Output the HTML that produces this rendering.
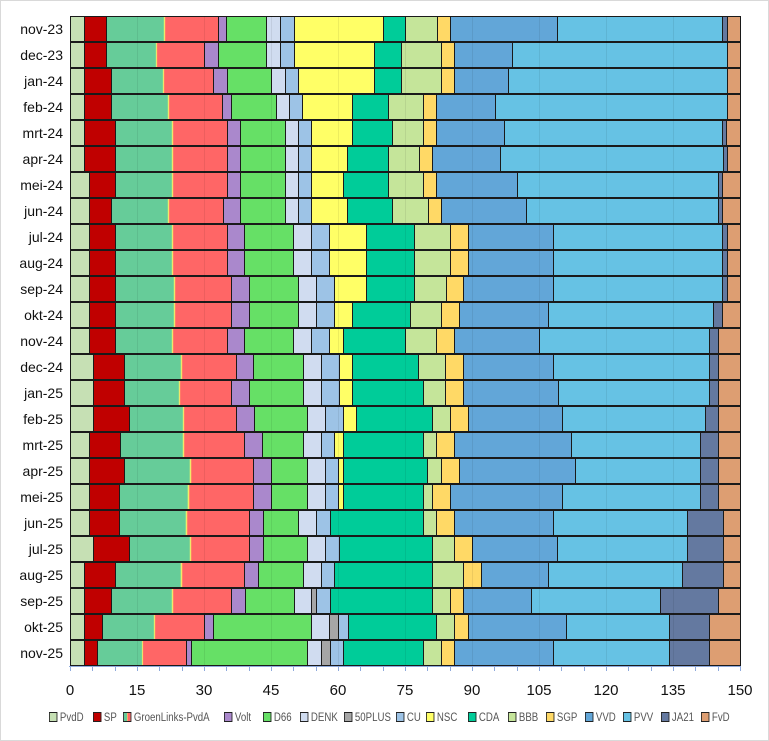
<!DOCTYPE html>
<html><head><meta charset="utf-8"><style>
body{margin:0;background:#fff;}
#c{position:relative;width:767px;height:739px;border:1px solid #d9d9d9;background:#fff;overflow:hidden;font-family:"Liberation Sans",sans-serif;}
.rl{position:absolute;left:0;width:62px;text-align:right;font-size:14px;color:#111;line-height:26px;}
.seg{position:absolute;box-sizing:border-box;border:1px solid #1a1a1a;height:26px;}
.tl{position:absolute;top:681px;width:40px;margin-left:-20px;text-align:center;font-size:15px;color:#111;}
.lg{position:absolute;top:711px;font-size:11.5px;color:#555;white-space:nowrap;transform:scaleX(0.84);transform-origin:0 50%;}
.lg i{display:inline-block;width:8px;height:8px;border:1px solid #222;margin-right:3px;vertical-align:-1px;}
.gl{position:absolute;top:15px;height:650px;width:1px;background:rgba(0,0,0,0.07);}
</style></head><body><div id="c">
<div class="rl" style="top:15px">nov-23</div>
<div class="rl" style="top:41px">dec-23</div>
<div class="rl" style="top:67px">jan-24</div>
<div class="rl" style="top:93px">feb-24</div>
<div class="rl" style="top:119px">mrt-24</div>
<div class="rl" style="top:145px">apr-24</div>
<div class="rl" style="top:171px">mei-24</div>
<div class="rl" style="top:197px">jun-24</div>
<div class="rl" style="top:223px">jul-24</div>
<div class="rl" style="top:249px">aug-24</div>
<div class="rl" style="top:275px">sep-24</div>
<div class="rl" style="top:301px">okt-24</div>
<div class="rl" style="top:327px">nov-24</div>
<div class="rl" style="top:353px">dec-24</div>
<div class="rl" style="top:379px">jan-25</div>
<div class="rl" style="top:405px">feb-25</div>
<div class="rl" style="top:431px">mrt-25</div>
<div class="rl" style="top:457px">apr-25</div>
<div class="rl" style="top:483px">mei-25</div>
<div class="rl" style="top:509px">jun-25</div>
<div class="rl" style="top:535px">jul-25</div>
<div class="rl" style="top:561px">aug-25</div>
<div class="rl" style="top:587px">sep-25</div>
<div class="rl" style="top:613px">okt-25</div>
<div class="rl" style="top:639px">nov-25</div>
<div id="bars"></div>
<div style="position:absolute;left:68px;top:665px;width:672px;height:1px;background:#8faadc"></div>
<div id="ticks"></div>
<div class="tl" style="left:69px">0</div>
<div class="tl" style="left:136px">15</div>
<div class="tl" style="left:203px">30</div>
<div class="tl" style="left:270px">45</div>
<div class="tl" style="left:337px">60</div>
<div class="tl" style="left:404px">75</div>
<div class="tl" style="left:471px">90</div>
<div class="tl" style="left:538px">105</div>
<div class="tl" style="left:605px">120</div>
<div class="tl" style="left:672px">135</div>
<div class="tl" style="left:739px">150</div>
<div class="lg" style="left:48px"><i style="background:#c6e0b4"></i>PvdD</div>
<div class="lg" style="left:92px"><i style="background:#c00000"></i>SP</div>
<div class="lg" style="left:122px"><i style="background:linear-gradient(90deg,#66cc99 45%,#ffff66 50%,#ff6666 55%)"></i>GroenLinks-PvdA</div>
<div class="lg" style="left:223px"><i style="background:#aa88cc"></i>Volt</div>
<div class="lg" style="left:262px"><i style="background:#66e066"></i>D66</div>
<div class="lg" style="left:299px"><i style="background:#d0dcf0"></i>DENK</div>
<div class="lg" style="left:343px"><i style="background:#a6a6a6"></i>50PLUS</div>
<div class="lg" style="left:395px"><i style="background:#9dc3e6"></i>CU</div>
<div class="lg" style="left:425px"><i style="background:#ffff66"></i>NSC</div>
<div class="lg" style="left:467px"><i style="background:#00cc99"></i>CDA</div>
<div class="lg" style="left:507px"><i style="background:#c5e59a"></i>BBB</div>
<div class="lg" style="left:545px"><i style="background:#ffd966"></i>SGP</div>
<div class="lg" style="left:584px"><i style="background:#62a6d8"></i>VVD</div>
<div class="lg" style="left:622px"><i style="background:#66c2e4"></i>PVV</div>
<div class="lg" style="left:660px"><i style="background:#6479a0"></i>JA21</div>
<div class="lg" style="left:700px"><i style="background:#dd9e72"></i>FvD</div>
</div>
<script>
var C=["#c6e0b4","#c00000","GL","GL","#aa88cc","#66e066","#d0dcf0","#a6a6a6","#9dc3e6","#ffff66","#00cc99","#c5e59a","#ffd966","#62a6d8","#66c2e4","#6479a0","#dd9e72"];
var R=[
[83,105,163,217,225,265,279,279,293,382,404,436,449,556,721,726,739],
[83,105,155,203,217,265,279,279,293,373,400,440,453,511,726,726,739],
[83,110,162,212,226,270,284,284,297,373,400,440,453,507,726,726,739],
[83,110,167,221,230,275,288,288,301,351,387,422,435,494,726,726,739],
[83,114,171,226,239,284,297,297,310,351,391,422,435,503,721,725,739],
[83,114,171,226,239,284,297,297,310,346,387,418,431,499,722,726,739],
[88,114,171,226,239,284,297,297,310,342,387,422,435,516,717,721,739],
[88,110,167,222,239,284,297,297,310,346,391,427,440,525,717,721,739],
[88,114,171,226,243,292,310,310,328,365,413,449,467,552,721,726,739],
[88,114,171,226,243,292,310,310,328,365,413,449,467,552,721,726,739],
[88,114,173,230,248,297,315,315,333,365,413,445,462,552,721,726,739],
[88,114,173,230,248,297,315,315,333,351,409,440,458,547,712,721,739],
[88,114,171,226,243,292,310,310,328,342,404,435,453,538,708,717,739],
[92,123,180,235,252,302,320,320,338,351,417,444,462,552,708,717,739],
[92,123,178,230,248,302,320,320,338,351,422,444,462,557,708,717,739],
[92,128,182,235,253,306,324,324,342,355,431,449,467,561,704,717,739],
[88,119,182,243,261,302,320,320,333,342,422,435,453,570,699,717,739],
[88,123,189,252,270,306,324,324,337,342,426,440,458,574,699,717,739],
[88,118,187,252,270,306,324,324,337,342,422,431,449,561,699,717,739],
[88,118,185,248,262,297,315,315,329,329,422,435,453,552,686,722,739],
[92,128,189,248,262,306,324,324,338,338,431,453,471,556,686,722,739],
[83,114,180,243,257,302,320,320,333,333,431,462,480,547,681,722,739],
[83,110,171,230,244,293,310,315,329,329,431,449,462,530,659,717,739],
[83,101,153,203,212,310,328,337,347,347,435,453,467,565,668,708,739],
[83,96,141,185,190,306,320,329,342,342,422,440,453,552,668,708,739]];
var h="";
for(var i=0;i<R.length;i++){var r=R[i],t=15+i*26,p=69;
for(var j=0;j<17;j++){var e=r[j];
if(j==2){var e2=r[3],w=e2-p,f=(e-p)/w*100;
h+='<div class="seg" style="left:'+p+'px;top:'+t+'px;width:'+(w+1)+'px;background:linear-gradient(90deg,#66cc99 '+(f-1)+'%,#ffff66 '+f+'%,#ff6666 '+(f+1)+'%)"></div>';p=e2;j=3;continue;}
if(e>p){h+='<div class="seg" style="left:'+p+'px;top:'+t+'px;width:'+(e-p+1)+'px;background:'+C[j]+'"></div>';}
p=e;}}
for(var k=1;k<=10;k++){h+='<div class="gl" style="left:'+(69+67*k)+'px"></div>';}
document.getElementById("bars").innerHTML=h;
var tk="";for(var k=0;k<=30;k++){tk+='<div style="position:absolute;left:'+Math.round(69+k*22.333)+'px;top:665px;width:1px;height:5px;background:#8faadc"></div>';}
document.getElementById("ticks").innerHTML=tk;
</script>
</body></html>
